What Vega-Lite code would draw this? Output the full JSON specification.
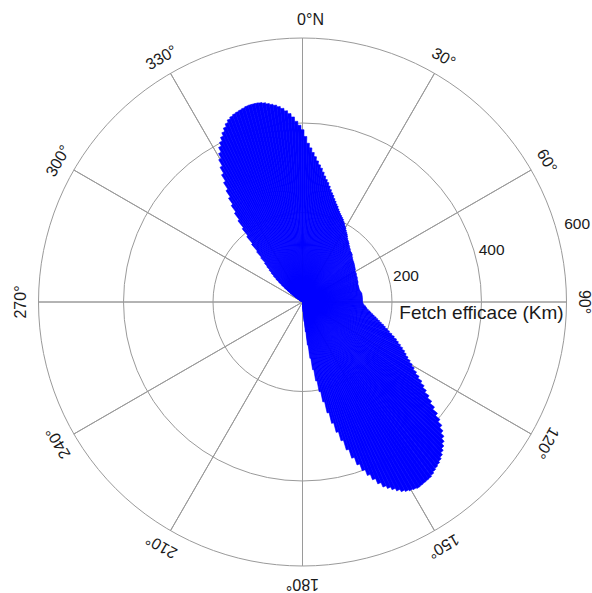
{
  "$schema": "https://vega.github.io/schema/vega-lite/v6.json",
  "width": 579,
  "height": 582,
  "autosize": {"type": "none"},
  "padding": {"left": 13, "top": 11, "right": 0, "bottom": 0},
  "background": "white",
  "config": {"view": {"stroke": null}, "font": "Liberation Sans"},
  "datasets": {
    "rings": [{"r": 200}, {"r": 400}, {"r": 590}],
    "spokes": [{"deg": 0}, {"deg": 30}, {"deg": 60}, {"deg": 90}, {"deg": 120}, {"deg": 150}, {"deg": 180}, {"deg": 210}, {"deg": 240}, {"deg": 270}, {"deg": 300}, {"deg": 330}],
    "angleLabels": [
      {"deg": 30, "label": "30°"}, {"deg": 60, "label": "60°"}, {"deg": 90, "label": "90°"},
      {"deg": 120, "label": "120°"}, {"deg": 150, "label": "150°"}, {"deg": 180, "label": "180°"}, {"deg": 210, "label": "210°"},
      {"deg": 240, "label": "240°"}, {"deg": 270, "label": "270°"}, {"deg": 300, "label": "300°"}, {"deg": 330, "label": "330°"}
    ],
    "radialLabels": [{"r": 200, "label": "200"}, {"r": 400, "label": "400"}, {"r": 600, "label": "600"}],
    "fetch": [
      {"from": 300.5, "to": 301.5, "fetch": 5}, {"from": 301.5, "to": 302.5, "fetch": 9}, {"from": 302.5, "to": 303.5, "fetch": 14},
      {"from": 303.5, "to": 304.5, "fetch": 20}, {"from": 304.5, "to": 305.5, "fetch": 27}, {"from": 305.5, "to": 306.5, "fetch": 34},
      {"from": 306.5, "to": 307.5, "fetch": 42}, {"from": 307.5, "to": 308.5, "fetch": 51}, {"from": 308.5, "to": 309.5, "fetch": 60},
      {"from": 309.5, "to": 310.5, "fetch": 69}, {"from": 310.5, "to": 311.5, "fetch": 78}, {"from": 311.5, "to": 312.5, "fetch": 87},
      {"from": 312.5, "to": 313.5, "fetch": 95}, {"from": 313.5, "to": 314.5, "fetch": 103}, {"from": 314.5, "to": 315.5, "fetch": 112},
      {"from": 315.5, "to": 316.5, "fetch": 121}, {"from": 316.5, "to": 317.5, "fetch": 136}, {"from": 317.5, "to": 318.5, "fetch": 152},
      {"from": 318.5, "to": 319.5, "fetch": 172}, {"from": 319.5, "to": 320.5, "fetch": 192}, {"from": 320.5, "to": 321.5, "fetch": 212},
      {"from": 321.5, "to": 322.5, "fetch": 232}, {"from": 322.5, "to": 323.5, "fetch": 250}, {"from": 323.5, "to": 324.5, "fetch": 268},
      {"from": 324.5, "to": 325.5, "fetch": 285}, {"from": 325.5, "to": 326.5, "fetch": 302}, {"from": 326.5, "to": 327.5, "fetch": 320},
      {"from": 327.5, "to": 328.5, "fetch": 337}, {"from": 328.5, "to": 329.5, "fetch": 353}, {"from": 329.5, "to": 330.5, "fetch": 369},
      {"from": 330.5, "to": 331.5, "fetch": 381}, {"from": 331.5, "to": 332.5, "fetch": 393}, {"from": 332.5, "to": 333.5, "fetch": 402},
      {"from": 333.5, "to": 334.5, "fetch": 411}, {"from": 334.5, "to": 335.5, "fetch": 419}, {"from": 335.5, "to": 336.5, "fetch": 427},
      {"from": 336.5, "to": 337.5, "fetch": 434}, {"from": 337.5, "to": 338.5, "fetch": 440}, {"from": 338.5, "to": 339.5, "fetch": 444},
      {"from": 339.5, "to": 340.5, "fetch": 447}, {"from": 340.5, "to": 341.5, "fetch": 449}, {"from": 341.5, "to": 342.5, "fetch": 451},
      {"from": 342.5, "to": 343.5, "fetch": 453}, {"from": 343.5, "to": 344.5, "fetch": 455}, {"from": 344.5, "to": 345.5, "fetch": 456},
      {"from": 345.5, "to": 346.5, "fetch": 456}, {"from": 346.5, "to": 347.5, "fetch": 456}, {"from": 347.5, "to": 348.5, "fetch": 455},
      {"from": 348.5, "to": 349.5, "fetch": 453}, {"from": 349.5, "to": 350.5, "fetch": 450}, {"from": 350.5, "to": 351.5, "fetch": 447},
      {"from": 351.5, "to": 352.5, "fetch": 444}, {"from": 352.5, "to": 353.5, "fetch": 440}, {"from": 353.5, "to": 354.5, "fetch": 435},
      {"from": 354.5, "to": 355.5, "fetch": 429}, {"from": 355.5, "to": 356.5, "fetch": 422}, {"from": 356.5, "to": 357.5, "fetch": 414},
      {"from": 357.5, "to": 358.5, "fetch": 404}, {"from": 358.5, "to": 359.5, "fetch": 395}, {"from": -0.5, "to": 0.5, "fetch": 385},
      {"from": 0.5, "to": 1.5, "fetch": 370}, {"from": 1.5, "to": 2.5, "fetch": 355}, {"from": 2.5, "to": 3.5, "fetch": 345},
      {"from": 3.5, "to": 4.5, "fetch": 335}, {"from": 4.5, "to": 5.5, "fetch": 326}, {"from": 5.5, "to": 6.5, "fetch": 317},
      {"from": 6.5, "to": 7.5, "fetch": 309}, {"from": 7.5, "to": 8.5, "fetch": 302}, {"from": 8.5, "to": 9.5, "fetch": 294},
      {"from": 9.5, "to": 10.5, "fetch": 286}, {"from": 10.5, "to": 11.5, "fetch": 279}, {"from": 11.5, "to": 12.5, "fetch": 273},
      {"from": 12.5, "to": 13.5, "fetch": 266}, {"from": 13.5, "to": 14.5, "fetch": 259}, {"from": 14.5, "to": 15.5, "fetch": 253},
      {"from": 15.5, "to": 16.5, "fetch": 248}, {"from": 16.5, "to": 17.5, "fetch": 242}, {"from": 17.5, "to": 18.5, "fetch": 237},
      {"from": 18.5, "to": 19.5, "fetch": 232}, {"from": 19.5, "to": 20.5, "fetch": 228}, {"from": 20.5, "to": 21.5, "fetch": 223},
      {"from": 21.5, "to": 22.5, "fetch": 219}, {"from": 22.5, "to": 23.5, "fetch": 215}, {"from": 23.5, "to": 24.5, "fetch": 212},
      {"from": 24.5, "to": 25.5, "fetch": 209}, {"from": 25.5, "to": 26.5, "fetch": 206}, {"from": 26.5, "to": 27.5, "fetch": 202},
      {"from": 27.5, "to": 28.5, "fetch": 199}, {"from": 28.5, "to": 29.5, "fetch": 195}, {"from": 29.5, "to": 30.5, "fetch": 192},
      {"from": 30.5, "to": 31.5, "fetch": 188}, {"from": 31.5, "to": 32.5, "fetch": 185}, {"from": 32.5, "to": 33.5, "fetch": 182},
      {"from": 33.5, "to": 34.5, "fetch": 179}, {"from": 34.5, "to": 35.5, "fetch": 175}, {"from": 35.5, "to": 36.5, "fetch": 172},
      {"from": 36.5, "to": 37.5, "fetch": 170}, {"from": 37.5, "to": 38.5, "fetch": 168}, {"from": 38.5, "to": 39.5, "fetch": 165},
      {"from": 39.5, "to": 40.5, "fetch": 163}, {"from": 40.5, "to": 41.5, "fetch": 161}, {"from": 41.5, "to": 42.5, "fetch": 159},
      {"from": 42.5, "to": 43.5, "fetch": 157}, {"from": 43.5, "to": 44.5, "fetch": 156}, {"from": 44.5, "to": 45.5, "fetch": 155},
      {"from": 45.5, "to": 46.5, "fetch": 154}, {"from": 46.5, "to": 47.5, "fetch": 152}, {"from": 47.5, "to": 48.5, "fetch": 150},
      {"from": 48.5, "to": 49.5, "fetch": 148}, {"from": 49.5, "to": 50.5, "fetch": 147}, {"from": 50.5, "to": 51.5, "fetch": 146},
      {"from": 51.5, "to": 52.5, "fetch": 145}, {"from": 52.5, "to": 53.5, "fetch": 144}, {"from": 53.5, "to": 54.5, "fetch": 143},
      {"from": 54.5, "to": 55.5, "fetch": 142}, {"from": 55.5, "to": 56.5, "fetch": 141}, {"from": 56.5, "to": 57.5, "fetch": 140},
      {"from": 57.5, "to": 58.5, "fetch": 139}, {"from": 58.5, "to": 59.5, "fetch": 137}, {"from": 59.5, "to": 60.5, "fetch": 136},
      {"from": 60.5, "to": 61.5, "fetch": 136}, {"from": 61.5, "to": 62.5, "fetch": 136}, {"from": 62.5, "to": 63.5, "fetch": 135},
      {"from": 63.5, "to": 64.5, "fetch": 134}, {"from": 64.5, "to": 65.5, "fetch": 134}, {"from": 65.5, "to": 66.5, "fetch": 134},
      {"from": 66.5, "to": 67.5, "fetch": 133}, {"from": 67.5, "to": 68.5, "fetch": 132}, {"from": 68.5, "to": 69.5, "fetch": 132},
      {"from": 69.5, "to": 70.5, "fetch": 132}, {"from": 70.5, "to": 71.5, "fetch": 131}, {"from": 71.5, "to": 72.5, "fetch": 130},
      {"from": 72.5, "to": 73.5, "fetch": 130}, {"from": 73.5, "to": 74.5, "fetch": 130}, {"from": 74.5, "to": 75.5, "fetch": 130},
      {"from": 75.5, "to": 76.5, "fetch": 130}, {"from": 76.5, "to": 77.5, "fetch": 130}, {"from": 77.5, "to": 78.5, "fetch": 130},
      {"from": 78.5, "to": 79.5, "fetch": 131}, {"from": 79.5, "to": 80.5, "fetch": 132}, {"from": 80.5, "to": 81.5, "fetch": 133},
      {"from": 81.5, "to": 82.5, "fetch": 134}, {"from": 82.5, "to": 83.5, "fetch": 134}, {"from": 83.5, "to": 84.5, "fetch": 134},
      {"from": 84.5, "to": 85.5, "fetch": 134}, {"from": 85.5, "to": 86.5, "fetch": 134}, {"from": 86.5, "to": 87.5, "fetch": 134},
      {"from": 87.5, "to": 88.5, "fetch": 134}, {"from": 88.5, "to": 89.5, "fetch": 134}, {"from": 89.5, "to": 90.5, "fetch": 134},
      {"from": 90.5, "to": 91.5, "fetch": 135}, {"from": 91.5, "to": 92.5, "fetch": 136}, {"from": 92.5, "to": 93.5, "fetch": 138},
      {"from": 93.5, "to": 94.5, "fetch": 141}, {"from": 94.5, "to": 95.5, "fetch": 143}, {"from": 95.5, "to": 96.5, "fetch": 145},
      {"from": 96.5, "to": 97.5, "fetch": 148}, {"from": 97.5, "to": 98.5, "fetch": 152}, {"from": 98.5, "to": 99.5, "fetch": 155},
      {"from": 99.5, "to": 100.5, "fetch": 159}, {"from": 100.5, "to": 101.5, "fetch": 163}, {"from": 101.5, "to": 102.5, "fetch": 168},
      {"from": 102.5, "to": 103.5, "fetch": 172}, {"from": 103.5, "to": 104.5, "fetch": 177}, {"from": 104.5, "to": 105.5, "fetch": 182},
      {"from": 105.5, "to": 106.5, "fetch": 188}, {"from": 106.5, "to": 107.5, "fetch": 193}, {"from": 107.5, "to": 108.5, "fetch": 199},
      {"from": 108.5, "to": 109.5, "fetch": 205}, {"from": 109.5, "to": 110.5, "fetch": 212}, {"from": 110.5, "to": 111.5, "fetch": 219},
      {"from": 111.5, "to": 112.5, "fetch": 226}, {"from": 112.5, "to": 113.5, "fetch": 232}, {"from": 113.5, "to": 114.5, "fetch": 239},
      {"from": 114.5, "to": 115.5, "fetch": 246}, {"from": 115.5, "to": 116.5, "fetch": 253}, {"from": 116.5, "to": 117.5, "fetch": 259},
      {"from": 117.5, "to": 118.5, "fetch": 266}, {"from": 118.5, "to": 119.5, "fetch": 274}, {"from": 119.5, "to": 120.5, "fetch": 282},
      {"from": 120.5, "to": 121.5, "fetch": 290}, {"from": 121.5, "to": 122.5, "fetch": 299}, {"from": 122.5, "to": 123.5, "fetch": 309},
      {"from": 123.5, "to": 124.5, "fetch": 320}, {"from": 124.5, "to": 125.5, "fetch": 330}, {"from": 125.5, "to": 126.5, "fetch": 340},
      {"from": 126.5, "to": 127.5, "fetch": 352}, {"from": 127.5, "to": 128.5, "fetch": 364}, {"from": 128.5, "to": 129.5, "fetch": 377},
      {"from": 129.5, "to": 130.5, "fetch": 391}, {"from": 130.5, "to": 131.5, "fetch": 404}, {"from": 131.5, "to": 132.5, "fetch": 416},
      {"from": 132.5, "to": 133.5, "fetch": 426}, {"from": 133.5, "to": 134.5, "fetch": 436}, {"from": 134.5, "to": 135.5, "fetch": 444},
      {"from": 135.5, "to": 136.5, "fetch": 451}, {"from": 136.5, "to": 137.5, "fetch": 457}, {"from": 137.5, "to": 138.5, "fetch": 463},
      {"from": 138.5, "to": 139.5, "fetch": 468}, {"from": 139.5, "to": 140.5, "fetch": 472}, {"from": 140.5, "to": 141.5, "fetch": 475},
      {"from": 141.5, "to": 142.5, "fetch": 478}, {"from": 142.5, "to": 143.5, "fetch": 482}, {"from": 143.5, "to": 144.5, "fetch": 485},
      {"from": 144.5, "to": 145.5, "fetch": 486}, {"from": 145.5, "to": 146.5, "fetch": 487}, {"from": 146.5, "to": 147.5, "fetch": 488},
      {"from": 147.5, "to": 148.5, "fetch": 489}, {"from": 148.5, "to": 149.5, "fetch": 487}, {"from": 149.5, "to": 150.5, "fetch": 485},
      {"from": 150.5, "to": 151.5, "fetch": 482}, {"from": 151.5, "to": 152.5, "fetch": 478}, {"from": 152.5, "to": 153.5, "fetch": 472},
      {"from": 153.5, "to": 154.5, "fetch": 465}, {"from": 154.5, "to": 155.5, "fetch": 458}, {"from": 155.5, "to": 156.5, "fetch": 451},
      {"from": 156.5, "to": 157.5, "fetch": 440}, {"from": 157.5, "to": 158.5, "fetch": 427}, {"from": 158.5, "to": 159.5, "fetch": 414},
      {"from": 159.5, "to": 160.5, "fetch": 400}, {"from": 160.5, "to": 161.5, "fetch": 384}, {"from": 161.5, "to": 162.5, "fetch": 366},
      {"from": 162.5, "to": 163.5, "fetch": 345}, {"from": 163.5, "to": 164.5, "fetch": 322}, {"from": 164.5, "to": 165.5, "fetch": 301},
      {"from": 165.5, "to": 166.5, "fetch": 279}, {"from": 166.5, "to": 167.5, "fetch": 254}, {"from": 167.5, "to": 168.5, "fetch": 228},
      {"from": 168.5, "to": 169.5, "fetch": 204}, {"from": 169.5, "to": 170.5, "fetch": 179}, {"from": 170.5, "to": 171.5, "fetch": 153},
      {"from": 171.5, "to": 172.5, "fetch": 127}, {"from": 172.5, "to": 173.5, "fetch": 97}, {"from": 173.5, "to": 174.5, "fetch": 67},
      {"from": 174.5, "to": 175.5, "fetch": 44}, {"from": 175.5, "to": 176.5, "fetch": 22}, {"from": 176.5, "to": 177.5, "fetch": 8}
    ]
  },
  "layer": [
    {
      "data": {"name": "rings"},
      "mark": {"type": "arc", "filled": false, "color": "#9a9a9a", "strokeWidth": 1},
      "encoding": {
        "theta": {"datum": 0, "type": "quantitative", "stack": null, "scale": {"type": "linear", "domain": [0, 360], "range": [0, 6.283185307179586]}},
        "theta2": {"datum": 360},
        "radius": {"field": "r", "type": "quantitative", "stack": null, "scale": {"type": "linear", "domain": [0, 590], "range": [0, 264], "zero": true}}
      }
    },
    {
      "data": {"name": "spokes"},
      "mark": {"type": "arc", "filled": false, "color": "#9a9a9a", "strokeWidth": 1},
      "encoding": {
        "theta": {"field": "deg", "type": "quantitative", "stack": null, "scale": {"type": "linear", "domain": [0, 360], "range": [0, 6.283185307179586]}},
        "theta2": {"field": "deg"},
        "radius": {"datum": 590, "type": "quantitative", "stack": null, "scale": {"type": "linear", "domain": [0, 590], "range": [0, 264], "zero": true}}
      }
    },
    {
      "data": {"name": "fetch"},
      "mark": {"type": "arc", "color": "#0000ff", "stroke": "#0000ff", "strokeWidth": 0.6},
      "encoding": {
        "theta": {"field": "from", "type": "quantitative", "stack": null, "scale": {"type": "linear", "domain": [0, 360], "range": [0, 6.283185307179586]}},
        "theta2": {"field": "to"},
        "radius": {"field": "fetch", "type": "quantitative", "stack": null, "scale": {"type": "linear", "domain": [0, 590], "range": [0, 264], "zero": true}}
      }
    },
    {
      "data": {"name": "angleLabels"},
      "mark": {"type": "text", "align": "center", "baseline": "middle", "fontSize": 16, "color": "#1a1a1a"},
      "encoding": {
        "theta": {"field": "deg", "type": "quantitative", "stack": null, "scale": {"type": "linear", "domain": [0, 360], "range": [0, 6.283185307179586]}},
        "radius": {"datum": 630, "type": "quantitative", "stack": null, "scale": {"type": "linear", "domain": [0, 590], "range": [0, 264], "zero": true}},
        "angle": {"field": "deg", "type": "quantitative", "scale": null},
        "text": {"field": "label"}
      }
    },
    {
      "data": {"values": [{"deg": 0, "label": "0°N"}]},
      "mark": {"type": "text", "align": "center", "baseline": "middle", "fontSize": 16, "color": "#1a1a1a", "dx": 8},
      "encoding": {
        "theta": {"field": "deg", "type": "quantitative", "stack": null, "scale": {"type": "linear", "domain": [0, 360], "range": [0, 6.283185307179586]}},
        "radius": {"datum": 630, "type": "quantitative", "stack": null, "scale": {"type": "linear", "domain": [0, 590], "range": [0, 264], "zero": true}},
        "text": {"field": "label"}
      }
    },
    {
      "data": {"name": "radialLabels"},
      "mark": {"type": "text", "align": "left", "baseline": "middle", "fontSize": 15.5, "color": "#1a1a1a", "dx": 5},
      "encoding": {
        "theta": {"datum": 73, "type": "quantitative", "stack": null, "scale": {"type": "linear", "domain": [0, 360], "range": [0, 6.283185307179586]}},
        "radius": {"field": "r", "type": "quantitative", "stack": null, "scale": {"type": "linear", "domain": [0, 590], "range": [0, 264], "zero": true}},
        "text": {"field": "label"}
      }
    },
    {
      "data": {"values": [{"label": "Fetch efficace (Km)"}]},
      "mark": {"type": "text", "align": "center", "baseline": "middle", "fontSize": 19, "color": "#1a1a1a", "dy": 11},
      "encoding": {
        "theta": {"datum": 90, "type": "quantitative", "stack": null, "scale": {"type": "linear", "domain": [0, 360], "range": [0, 6.283185307179586]}},
        "radius": {"datum": 400, "type": "quantitative", "stack": null, "scale": {"type": "linear", "domain": [0, 590], "range": [0, 264], "zero": true}},
        "text": {"field": "label"}
      }
    }
  ]
}
